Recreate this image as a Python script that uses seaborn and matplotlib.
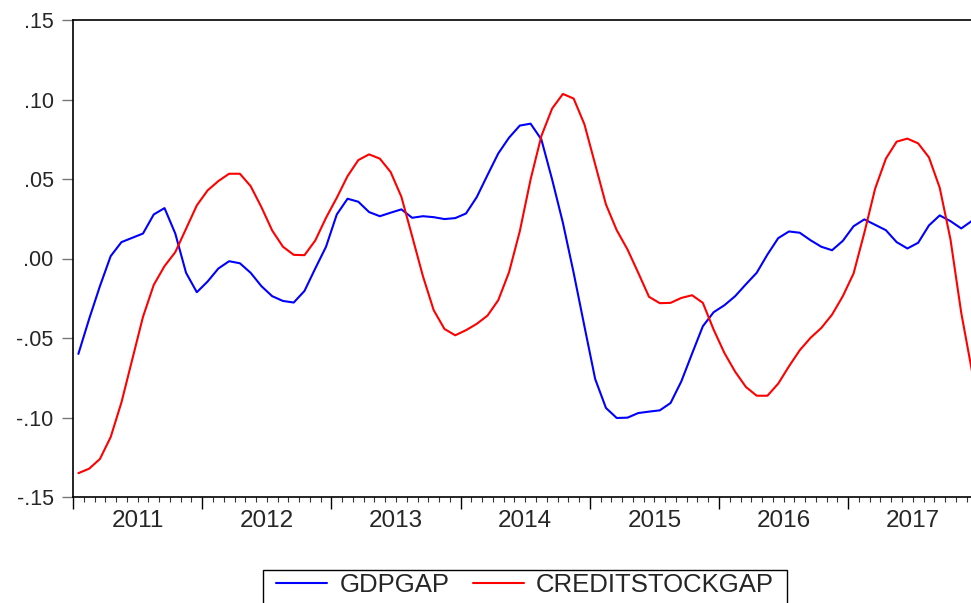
import numpy as np
import pandas as pd
import matplotlib
matplotlib.use("Agg")
import matplotlib.pyplot as plt
from matplotlib.ticker import FixedLocator, FuncFormatter
from matplotlib.patches import Rectangle
import seaborn as sns

# ---------------- data (monthly, Jan 2011 - Dec 2017) ----------------
years = ["2011", "2012", "2013", "2014", "2015", "2016", "2017"]
series_names = ["GDPGAP", "CREDITSTOCKGAP"]

gdpgap = [
    -0.060, -0.038, -0.0174, 0.0015, 0.0103, 0.0130, 0.0157, 0.0277, 0.0317, 0.0157,
    -0.0090, -0.0212, -0.0145, -0.0063, -0.0017, -0.0030, -0.0090, -0.0174, -0.0237, -0.0267,
    -0.0277, -0.0204, -0.0063, 0.0074, 0.0277, 0.0376, 0.0357, 0.0292, 0.0266, 0.0288,
    0.0309, 0.0256, 0.0266, 0.0260, 0.0248, 0.0254, 0.0283, 0.0386, 0.0525, 0.0661,
    0.0760, 0.0836, 0.0848, 0.0749, 0.0497, 0.0225, -0.0090, -0.0426, -0.0758, -0.0940,
    -0.1003, -0.1001, -0.0972, -0.0963, -0.0955, -0.0909, -0.0773, -0.0598, -0.0426, -0.0338,
    -0.0294, -0.0237, -0.0162, -0.0090, 0.0025, 0.0128, 0.0170, 0.0162, 0.0115, 0.0074,
    0.0052, 0.0111, 0.0203, 0.0246, 0.0212, 0.0178, 0.0103, 0.0063, 0.0099, 0.0208,
    0.0271, 0.0235, 0.0189, 0.0237,
]

creditstockgap = [
    -0.1350, -0.1322, -0.1261, -0.1123, -0.0905, -0.0636, -0.0367, -0.0166, -0.0048, 0.0040,
    0.0187, 0.0334, 0.0428, 0.0487, 0.0533, 0.0533, 0.0455, 0.0323, 0.0176, 0.0074,
    0.0023, 0.0021, 0.0113, 0.0256, 0.0382, 0.0518, 0.0619, 0.0655, 0.0628, 0.0544,
    0.0388, 0.0140, -0.0111, -0.0325, -0.0443, -0.0483, -0.0451, -0.0411, -0.0359, -0.0262,
    -0.0086, 0.0172, 0.0497, 0.0770, 0.0943, 0.1035, 0.1006, 0.0844, 0.0592, 0.0340,
    0.0178, 0.0057, -0.0090, -0.0241, -0.0281, -0.0279, -0.0248, -0.0231, -0.0279, -0.0447,
    -0.0594, -0.0712, -0.0808, -0.0863, -0.0863, -0.0787, -0.0678, -0.0577, -0.0499, -0.0437,
    -0.0353, -0.0237, -0.0094, 0.0162, 0.0439, 0.0628, 0.0735, 0.0754, 0.0724, 0.0636,
    0.0445, 0.0120, -0.0342, -0.0710,
]

yticks = [-0.15, -0.10, -0.05, 0.00, 0.05, 0.10, 0.15]
ytick_labels = ["-.15", "-.10", "-.05", ".00", ".05", ".10", ".15"]

# ---------------- build frame ----------------
month_idx = np.arange(len(gdpgap))
df = pd.DataFrame({
    "t": np.concatenate([month_idx, month_idx]),
    "value": np.concatenate([gdpgap, creditstockgap]),
    "series": [series_names[0]] * len(gdpgap) + [series_names[1]] * len(creditstockgap),
})

sns.set_style("white")
plt.rcParams["font.family"] = ["Liberation Sans", "DejaVu Sans"]

W, H = 971, 603
fig = plt.figure(figsize=(W / 100, H / 100), dpi=100)
left_px, right_px, top_px, bot_px = 73, 971, 20, 497
ax = fig.add_axes([left_px / W, 1 - bot_px / H, (right_px - left_px) / W, (bot_px - top_px) / H])

sns.lineplot(data=df, x="t", y="value", hue="series", hue_order=series_names,
             palette={"GDPGAP": "#0000FF", "CREDITSTOCKGAP": "#FF0000"},
             linewidth=1.5, ax=ax, legend=False)

month_px = 129.2 / 12.0
ax.set_xlim(-0.5, (right_px - left_px) / month_px - 0.5)
ax.set_ylim(-0.15, 0.15)
ax.set_xlabel("")
ax.set_ylabel("")

# y axis
ax.set_yticks(yticks)
ax.set_yticklabels(ytick_labels)
ax.tick_params(axis="y", which="major", direction="out", length=8, width=1.0,
               color="#777777", labelsize=15.5, pad=6, left=True)

# x axis: year boundaries (major), month boundaries (minor), year labels on mid-year minor ticks
n_years = len(years)
major_pos = [-0.5 + 12 * k for k in range(n_years + 1)]
minor_pos = [-0.5 + m for m in range(12 * n_years + 1)]
ax.xaxis.set_major_locator(FixedLocator(major_pos))
ax.xaxis.set_minor_locator(FixedLocator(minor_pos))
ax.xaxis.set_major_formatter(FuncFormatter(lambda v, p: ""))


def year_fmt(v, p):
    k = (v + 0.5 - 6) / 12.0
    if abs(k - round(k)) < 1e-6 and 0 <= round(k) < n_years:
        return years[int(round(k))]
    return ""


ax.xaxis.set_minor_formatter(FuncFormatter(year_fmt))
ax.tick_params(axis="x", which="major", direction="out", length=8.5, width=1.0,
               color="black", bottom=True)
ax.tick_params(axis="x", which="minor", direction="out", length=3.6, width=0.8,
               color="#333333", bottom=True, labelsize=17.5, pad=5.5)

for side in ["left", "top", "bottom"]:
    ax.spines[side].set_visible(True)
    ax.spines[side].set_color("black")
    ax.spines[side].set_linewidth(1.2)
ax.spines["right"].set_visible(False)
ax.grid(False)

# legend (frame drawn separately, runs off the bottom edge like the reference)
handles = [plt.Line2D([], [], color="#0000FF", lw=1.5),
           plt.Line2D([], [], color="#FF0000", lw=1.5)]
leg = fig.legend(handles, series_names, loc="center", ncol=2, frameon=False,
                 bbox_to_anchor=(525 / W, 1 - 585 / H), fontsize=18.5,
                 handlelength=2.0, handletextpad=0.47, columnspacing=0.9,
                 borderpad=0.0, borderaxespad=0.0)
fig.patches.append(Rectangle((263 / W, 1 - 620 / H), (787 - 263) / W, 50 / H,
                             transform=fig.transFigure, fill=False,
                             edgecolor="black", linewidth=1.0, clip_on=False))

fig.savefig("out.png", dpi=100)
